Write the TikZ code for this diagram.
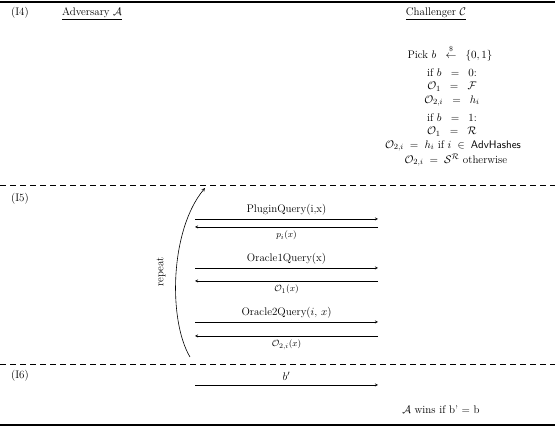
\documentclass[tikz,border=0pt]{standalone}
\usepackage{amsmath}
\usepackage{amssymb}
\usepackage{tikz}
\usetikzlibrary{calc,positioning}

\begin{document}
\begin{tikzpicture}[x = 1pt, y = -1pt, line width = 0.4pt,
								txt/.style = {inner sep = 0pt, font = \fontsize{11}{13}\selectfont},
								small/.style = {inner sep = 0pt, font = \fontsize{9.5}{11}\selectfont},
								msg/.style = {->, >=stealth, line width = 0.4pt},
								rule/.style = {line width = 1.6pt},
								sep/.style = {dash pattern = on 6pt off 4pt, line width = 0.5pt}]

				\useasboundingbox (0,0) rectangle (555,427);

				% rules and separators
				\coordinate (t_l) at (0,2);
				\coordinate (t_r) at (555,2);
				\coordinate (b_l) at (0,425);
				\coordinate (b_r) at (555,425);
				\coordinate (s1_l) at (0,185);
				\coordinate (s1_r) at (555,185);
				\coordinate (s2_l) at (0,364);
				\coordinate (s2_r) at (555,364);
				\draw [rule] (t_l) -- (t_r);
				\draw [rule] (b_l) -- (b_r);
				\draw [sep] (s1_l) -- (s1_r);
				\draw [sep] (s2_l) -- (s2_r);

				% phase I4
				\node [txt] (p_4) at (20,13) {(I4)};
				\node [txt] (adv) at (92,14) {\underline{Adversary $\mathcal{A}$}};
				\node [txt] (chal) at (436,14) {\underline{Challenger $\mathcal{C}$}};

				\node [txt] (c_1) at (450,53) {Pick $b \;\;\overset{\raisebox{1pt}{\scriptsize\$}}{\leftarrow}\;\; \{0,1\}$};
				\node [txt] (c_2) at (452,73) {if $b \;\;=\;\; 0$:};
				\node [txt] (c_3) at (452,87) {$\mathcal{O}_1 \;\;=\;\; \mathcal{F}$};
				\node [txt] (c_4) at (452,101) {$\mathcal{O}_{2,i} \;\;=\;\; h_i$};
				\node [txt] (c_5) at (452,118) {if $b \;\;=\;\; 1$:};
				\node [txt] (c_6) at (452,132) {$\mathcal{O}_1 \;\;=\;\; \mathcal{R}$};
				\node [txt] (c_7) at (453,146) {$\mathcal{O}_{2,i} \;=\; h_i$ if $i \;\in\; \mathsf{AdvHashes}$};
				\node [txt] (c_8) at (456,160) {$\mathcal{O}_{2,i} \;=\; \mathcal{S}^{\mathcal{R}}$ otherwise};

				% phase I5
				\node [txt] (p_5) at (20,199) {(I5)};

				\coordinate (q1_a) at (195,219);
				\coordinate (q1_b) at (378,219);
				\coordinate (r1_a) at (195,227);
				\coordinate (r1_b) at (378,227);
				\draw [msg] (q1_a) -- (q1_b);
				\draw [msg] (r1_b) -- (r1_a);
				\node [txt, above = 4pt] (q1) at ($(q1_a)!0.5!(q1_b)$) {PluginQuery(i,x)};
				\node [small, below = 4pt] (r1) at ($(r1_a)!0.5!(r1_b)$) {$p_i(x)$};

				\coordinate (q2_a) at (195,268);
				\coordinate (q2_b) at (378,268);
				\coordinate (r2_a) at (195,281);
				\coordinate (r2_b) at (378,281);
				\draw [msg] (q2_a) -- (q2_b);
				\draw [msg] (r2_b) -- (r2_a);
				\node [txt, above = 4pt] (q2) at ($(q2_a)!0.5!(q2_b)$) {Oracle1Query(x)};
				\node [small, below = 4pt] (r2) at ($(r2_a)!0.5!(r2_b)$) {$\mathcal{O}_1(x)$};

				\coordinate (q3_a) at (195,322);
				\coordinate (q3_b) at (378,322);
				\coordinate (r3_a) at (195,336);
				\coordinate (r3_b) at (378,336);
				\draw [msg] (q3_a) -- (q3_b);
				\draw [msg] (r3_b) -- (r3_a);
				\node [txt, above = 4pt] (q3) at ($(q3_a)!0.5!(q3_b)$) {Oracle2Query($i$, $x$)};
				\node [small, below = 4pt] (r3) at ($(r3_a)!0.5!(r3_b)$) {$\mathcal{O}_{2,i}(x)$};

				\coordinate (loop_b) at (190,357);
				\coordinate (loop_t) at (205,188);
				\draw [msg, line width = 0.6pt] (loop_b) .. controls (168,320) and (170,230) .. (loop_t);
				\node [txt, rotate = 90] (rep) at (161,272) {repeat};

				% phase I6
				\node [txt] (p_6) at (20,376) {(I6)};
				\coordinate (q4_a) at (195,385);
				\coordinate (q4_b) at (378,385);
				\draw [msg] (q4_a) -- (q4_b);
				\node [txt, above = 4pt] (q4) at ($(q4_a)!0.5!(q4_b)$) {$b'$};
				\node [txt] (win) at (441,410) {$\mathcal{A}$ wins if b' = b};
			\end{tikzpicture}
\end{document}
